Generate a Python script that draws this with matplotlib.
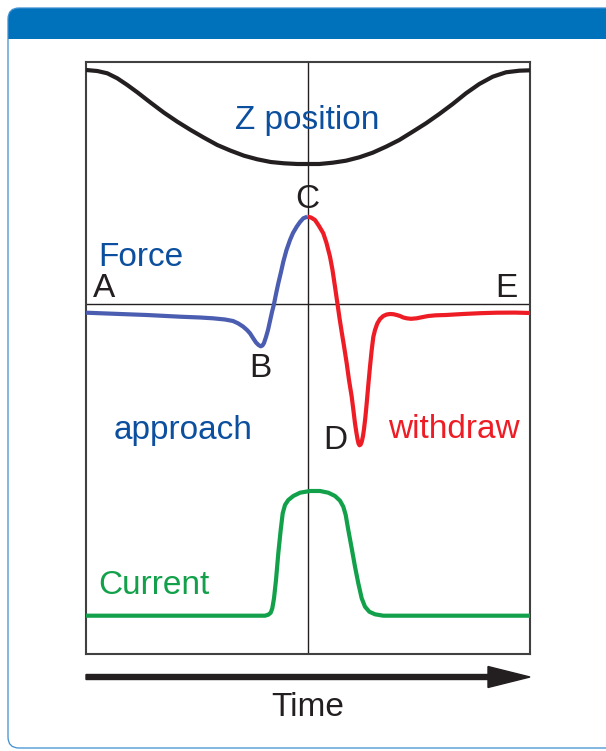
import matplotlib
matplotlib.use("Agg")
import matplotlib.pyplot as plt
from matplotlib.patches import FancyBboxPatch, Rectangle, FancyArrow

# ---------------- data (arbitrary units: time 0..444, signal 0..592) -------------
z_time = [0, 11.3, 21.3, 31.3, 41.3, 51.3, 64.7, 78, 91.3, 104.7, 118, 131.3, 144.7,
          158, 171.3, 184.7, 198, 211.3, 221.3, 233.3, 246.7, 260, 273.3, 286.7, 300,
          313.3, 326.7, 340, 353.3, 366.7, 380, 393.3, 406.7, 420, 433.3, 444]
z_pos = [584, 583, 580.7, 575.7, 569, 561.7, 551.3, 541.3, 532.3, 524, 516.3, 509,
         503.3, 498.3, 494.7, 492, 490.7, 490, 490, 490, 491.3, 493.3, 496.7, 501.3,
         507.3, 514, 522.3, 530.7, 540, 550, 560.7, 570, 577.3, 581.7, 583.3, 583.7]

approach_time = [0, 34, 60.7, 94, 114, 127, 139, 147, 152, 157, 161, 164, 167, 170,
                 172.5, 174.7, 176.5, 178, 180, 182, 184, 186, 188, 190, 192.3, 195,
                 197.3, 200.5, 204, 207, 210.7, 214, 217.3, 221.3]
approach_force = [341.3, 340, 339, 337.3, 336.5, 335.7, 334.5, 333, 330.7, 327.5, 324,
                  320.7, 316, 311.5, 309, 307.7, 308.5, 311, 317, 324, 333, 342, 350,
                  360, 370.7, 382, 392.3, 404, 414, 421, 427.3, 432, 435.7, 437.3]

withdraw_time = [221.3, 225, 229, 233, 237.3, 240.5, 244, 246.5, 249, 251.5, 253.5,
                 255.7, 258, 260.7, 263, 265.7, 267.5, 269, 270.3, 271.5, 272.5, 273.5,
                 274.7, 275.8, 277, 278, 279.3, 280.7, 282.3, 284, 285.7, 287.3, 289,
                 291.3, 294, 297.3, 300.7, 304, 307.3, 310.7, 314, 317.3, 320.7, 325,
                 330.7, 336, 342.3, 350, 360, 377, 394, 410.7, 429, 444]
withdraw_force = [437.3, 436.5, 434, 428, 420.7, 411, 397.3, 384, 367.3, 350, 336,
                  322, 308, 290.7, 274, 257.3, 243, 230.7, 222, 215, 210.5, 208.7,
                  209.5, 212.5, 218, 225, 236, 250.7, 269, 287.3, 304, 317, 324,
                  330.5, 335, 338, 339.5, 340, 339.8, 339, 338, 336.5, 335.7, 335.2,
                  335.7, 336.8, 338, 338.7, 339, 340, 340.8, 341.3, 341.4, 341]

current_time = [0, 179, 182.3, 184.7, 186.3, 188, 190, 192.3, 194.7, 196.7, 199,
                202.3, 207.3, 214, 224, 234, 242.3, 249, 254, 257.3, 259.7, 262.3,
                265.7, 269, 272.3, 275.7, 279, 283.3, 289, 297.3, 444]
current_val = [38.3, 38.3, 39.3, 41.3, 45.7, 55.7, 74, 100.7, 124, 140.7, 149, 154,
               158, 161.3, 163, 163, 161.3, 158, 153.3, 147.3, 139, 124, 105.7, 87.3,
               70.7, 55.7, 47.3, 42.3, 39.7, 38.3, 38.3]

contact_time = 222
force_zero = 350.5

labels = {
    "A": (18, 357), "B": (174, 277), "C": (221.3, 446.5),
    "D": (249, 205), "E": (420, 357),
}

# ---------------- colours ----------------
TXT_BLUE = "#0b4f9e"
CURVE_BLUE = "#4b5db0"
RED = "#ee1c25"
GREEN = "#12a14a"
BLACK = "#231f20"
HEADER = "#0071bb"

plt.rcParams["font.family"] = ["Liberation Sans", "DejaVu Sans"]

W, H = 606, 751
fig = plt.figure(figsize=(W / 100, H / 100), dpi=100)

# decoration layer in pixel units
bg = fig.add_axes([0, 0, 1, 1])
bg.set_xlim(0, W)
bg.set_ylim(H, 0)
bg.axis("off")
bg.add_patch(FancyBboxPatch((8, 8), 640, 60, boxstyle="round,pad=0,rounding_size=12",
                            facecolor=HEADER, edgecolor="none", zorder=1))
bg.add_patch(Rectangle((7, 39), 640, 60, facecolor="white", edgecolor="none", zorder=2))
bg.add_patch(FancyBboxPatch((8, 8), 640, 740, boxstyle="round,pad=0,rounding_size=11",
                            facecolor="none", edgecolor="#3d8fd0", linewidth=0.9, zorder=3))
bg.add_patch(FancyArrow(86, 677, 402, 0, width=5, head_width=21, head_length=42,
                        length_includes_head=False, color=BLACK, zorder=4))
bg.text(308, 716.5, "Time", ha="center", va="baseline", fontsize=24, color=BLACK)

# main plot
L, R, T, B = 86, 530, 62, 654
ax = fig.add_axes([L / W, (H - B) / H, (R - L) / W, (B - T) / H])
ax.set_xlim(0, 444)
ax.set_ylim(0, 592)
ax.set_xticks([])
ax.set_yticks([])
for s in ax.spines.values():
    s.set_linewidth(1.5)
    s.set_color("#404040")

ax.axvline(contact_time, color=BLACK, lw=1.0, zorder=1)
ax.axhline(force_zero, color=BLACK, lw=1.0, zorder=1)

lw = 3.0
kw = dict(lw=lw, solid_capstyle="butt", solid_joinstyle="round", zorder=3)
ax.plot(z_time, z_pos, color=BLACK, **kw)
ax.plot(approach_time, approach_force, color=CURVE_BLUE, **kw)
ax.plot(withdraw_time, withdraw_force, color=RED, **kw)
ax.plot(current_time, current_val, color=GREEN, **kw)

fs = 24
ax.text(221.5, 525, "Z position", ha="center", va="baseline", fontsize=fs, color=TXT_BLUE, zorder=4)
ax.text(12, 387.5, "Force", ha="left", va="baseline", fontsize=fs, color=TXT_BLUE, zorder=4)
ax.text(97.5, 215.5, "approach", ha="center", va="baseline", fontsize=fs, color=TXT_BLUE, zorder=4)
ax.text(368, 215.5, "withdraw", ha="center", va="baseline", fontsize=fs, color=RED, zorder=4)
ax.text(12, 60, "Current", ha="left", va="baseline", fontsize=fs, color=GREEN, zorder=4)
for k, (x, y) in labels.items():
    ax.text(x, y, k, ha="center", va="baseline", fontsize=fs, color=BLACK, zorder=4)

fig.savefig("out.png", dpi=100)
